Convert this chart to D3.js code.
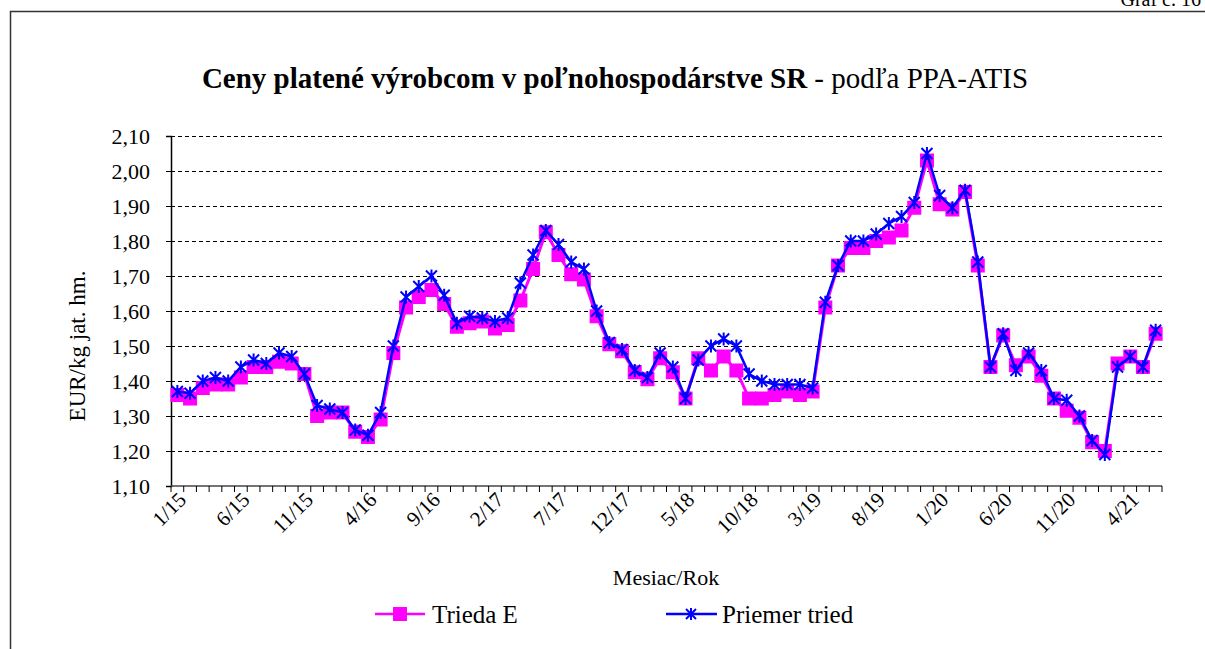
<!DOCTYPE html>
<html lang="sk">
<head>
    <meta charset="UTF-8">
    <title>Ceny platené výrobcom v poľnohospodárstve SR</title>
    <script src="https://d3js.org/d3.v7.min.js"></script>
    <style>
        body {
            margin: 0;
            padding: 0;
            background-color: #ffffff;
        }
    </style>
</head>
<body>
    <div id="chart"></div>

    <script>
        // months 1/15 .. 6/21
        const months = ("1/15 2/15 3/15 4/15 5/15 6/15 7/15 8/15 9/15 10/15 11/15 12/15 " +
            "1/16 2/16 3/16 4/16 5/16 6/16 7/16 8/16 9/16 10/16 11/16 12/16 " +
            "1/17 2/17 3/17 4/17 5/17 6/17 7/17 8/17 9/17 10/17 11/17 12/17 " +
            "1/18 2/18 3/18 4/18 5/18 6/18 7/18 8/18 9/18 10/18 11/18 12/18 " +
            "1/19 2/19 3/19 4/19 5/19 6/19 7/19 8/19 9/19 10/19 11/19 12/19 " +
            "1/20 2/20 3/20 4/20 5/20 6/20 7/20 8/20 9/20 10/20 11/20 12/20 " +
            "1/21 2/21 3/21 4/21 5/21 6/21").split(" ");

        const triedaE = [
            1.36, 1.35, 1.38, 1.39, 1.39, 1.41, 1.44, 1.44, 1.455, 1.45, 1.42, 1.30,
            1.31, 1.31, 1.255, 1.24, 1.29, 1.48, 1.61, 1.64, 1.66, 1.62, 1.555, 1.565,
            1.57, 1.55, 1.56, 1.63, 1.72, 1.825, 1.76, 1.705, 1.69, 1.585, 1.505, 1.485,
            1.425, 1.405, 1.465, 1.425, 1.35, 1.465, 1.43, 1.47, 1.43, 1.35, 1.35, 1.36,
            1.37, 1.36, 1.37, 1.61, 1.73, 1.78, 1.78, 1.80, 1.81, 1.83, 1.895, 2.03,
            1.905, 1.89, 1.94, 1.73, 1.44, 1.53, 1.445, 1.47, 1.415, 1.35, 1.315, 1.295,
            1.225, 1.20, 1.45, 1.47, 1.44, 1.535
        ];

        const priemer = [
            1.37, 1.365, 1.40, 1.41, 1.40, 1.44, 1.46, 1.45, 1.48, 1.47, 1.42, 1.33,
            1.32, 1.31, 1.26, 1.245, 1.31, 1.50, 1.64, 1.67, 1.70, 1.645, 1.565, 1.585,
            1.58, 1.57, 1.58, 1.68, 1.76, 1.83, 1.79, 1.74, 1.72, 1.60, 1.51, 1.49,
            1.43, 1.41, 1.48, 1.44, 1.35, 1.46, 1.50, 1.52, 1.50, 1.42, 1.40, 1.39,
            1.39, 1.39, 1.38, 1.625, 1.73, 1.80, 1.80, 1.82, 1.85, 1.87, 1.91, 2.05,
            1.93, 1.895, 1.945, 1.74, 1.44, 1.535, 1.43, 1.48, 1.43, 1.35, 1.345, 1.30,
            1.23, 1.19, 1.44, 1.47, 1.44, 1.545
        ];

        const yTicks = [1.10, 1.20, 1.30, 1.40, 1.50, 1.60, 1.70, 1.80, 1.90, 2.00, 2.10];

        const width = 1205, height = 649;
        const plot = { left: 171, right: 1162, top: 136, bottom: 486 };
        const serif = "'Liberation Serif', 'Times New Roman', 'DejaVu Serif', serif";

        const svg = d3.select("#chart")
            .append("svg")
            .attr("width", width)
            .attr("height", height)
            .attr("font-family", serif);

        // outer frame (runs off the right and bottom edge)
        svg.append("rect")
            .attr("x", 10.5).attr("y", 11.5)
            .attr("width", 1300).attr("height", 800)
            .attr("fill", "none")
            .attr("stroke", "#333")
            .attr("stroke-width", 1.5);

        // page caption, cut by the top edge as in the source
        svg.append("text")
            .attr("x", 1201).attr("y", 6)
            .attr("text-anchor", "end")
            .attr("font-size", 20)
            .text("Graf č. 16");

        // title
        const title = svg.append("text")
            .attr("x", 615).attr("y", 88)
            .attr("text-anchor", "middle")
            .attr("font-size", 29);
        title.append("tspan").attr("font-weight", "bold")
            .text("Ceny platené výrobcom v poľnohospodárstve SR");
        title.append("tspan").text(" - podľa PPA-ATIS");

        const x = d3.scaleBand()
            .domain(months)
            .range([plot.left, plot.right]);

        const y = d3.scaleLinear()
            .domain([1.10, 2.10])
            .range([plot.bottom, plot.top]);

        const fmt = v => d3.format(".2f")(v).replace(".", ",");

        // gridlines
        svg.append("g")
            .selectAll("line")
            .data(yTicks.slice(1))
            .enter().append("line")
            .attr("x1", plot.left).attr("x2", plot.right)
            .attr("y1", d => Math.round(y(d)) + 0.5)
            .attr("y2", d => Math.round(y(d)) + 0.5)
            .attr("stroke", "#000")
            .attr("stroke-width", 1)
            .attr("stroke-dasharray", "4,3");

        // y axis
        const yAxis = svg.append("g")
            .attr("transform", `translate(${plot.left},0)`)
            .call(d3.axisLeft(y).tickValues(yTicks).tickFormat(fmt).tickSize(5).tickPadding(16));
        yAxis.attr("font-family", serif).attr("font-size", 22);
        yAxis.select(".domain").attr("stroke", "#000").attr("stroke-width", 1.5);
        yAxis.selectAll(".tick line").attr("stroke", "#000");
        yAxis.selectAll("text").attr("fill", "#000");

        // x axis: ticks at category boundaries
        const xAxis = svg.append("g")
            .attr("transform", `translate(0,${plot.bottom})`);
        xAxis.append("line")
            .attr("x1", plot.left).attr("x2", plot.right)
            .attr("y1", 0).attr("y2", 0)
            .attr("stroke", "#444").attr("stroke-width", 1.5);
        xAxis.selectAll("line.tk")
            .data(months.concat(["end"]))
            .enter().append("line")
            .attr("class", "tk")
            .attr("x1", (d, i) => i < months.length ? x(d) : plot.right)
            .attr("x2", (d, i) => i < months.length ? x(d) : plot.right)
            .attr("y1", 0).attr("y2", 6)
            .attr("stroke", "#000");
        xAxis.selectAll("text")
            .data(months.filter((d, i) => i % 5 === 0))
            .enter().append("text")
            .attr("transform", d => `translate(${x(d) + x.bandwidth() / 2 + 10},${15}) rotate(-45)`)
            .attr("text-anchor", "end")
            .attr("font-size", 21)
            .text(d => d);

        // axis titles
        svg.append("text")
            .attr("transform", `translate(85,${346}) rotate(-90)`)
            .attr("text-anchor", "middle")
            .attr("font-size", 23)
            .text("EUR/kg jat. hm.");

        svg.append("text")
            .attr("x", 666).attr("y", 585)
            .attr("text-anchor", "middle")
            .attr("font-size", 22)
            .text("Mesiac/Rok");

        const cx = (d, i) => x(months[i]) + x.bandwidth() / 2;
        const line = d3.line().x((d, i) => cx(d, i)).y(d => y(d));

        const starPath = s => `M${-s},${-s}L${s},${s}M${-s},${s}L${s},${-s}M0,${-s - 1}L0,${s + 1}`;

        // Trieda E
        svg.append("path")
            .datum(triedaE)
            .attr("d", line)
            .attr("fill", "none")
            .attr("stroke", "#ff00ff")
            .attr("stroke-width", 3);
        svg.append("g")
            .selectAll("rect")
            .data(triedaE)
            .enter().append("rect")
            .attr("x", (d, i) => cx(d, i) - 7)
            .attr("y", d => y(d) - 7)
            .attr("width", 14).attr("height", 14)
            .attr("fill", "#ff00ff");

        // Priemer tried
        svg.append("path")
            .datum(priemer)
            .attr("d", line)
            .attr("fill", "none")
            .attr("stroke", "#0000ff")
            .attr("stroke-width", 2.5);
        svg.append("g")
            .selectAll("path")
            .data(priemer)
            .enter().append("path")
            .attr("transform", (d, i) => `translate(${cx(d, i)},${y(d)})`)
            .attr("d", starPath(5.5))
            .attr("fill", "none")
            .attr("stroke", "#0000ff")
            .attr("stroke-width", 2);

        // legend
        const legend = svg.append("g").attr("transform", "translate(0,614)");
        legend.append("line")
            .attr("x1", 375).attr("x2", 425).attr("y1", 0).attr("y2", 0)
            .attr("stroke", "#ff00ff").attr("stroke-width", 2.5);
        legend.append("rect")
            .attr("x", 393).attr("y", -7).attr("width", 14).attr("height", 14)
            .attr("fill", "#ff00ff");
        legend.append("text")
            .attr("x", 432).attr("y", 9)
            .attr("font-size", 25)
            .text("Trieda E");

        legend.append("line")
            .attr("x1", 666).attr("x2", 717).attr("y1", 0).attr("y2", 0)
            .attr("stroke", "#0000ff").attr("stroke-width", 2.5);
        legend.append("path")
            .attr("transform", "translate(691,0)")
            .attr("d", starPath(5))
            .attr("fill", "none")
            .attr("stroke", "#0000ff")
            .attr("stroke-width", 2);
        legend.append("text")
            .attr("x", 722).attr("y", 9)
            .attr("font-size", 25)
            .text("Priemer tried");
    </script>
</body>
</html>
